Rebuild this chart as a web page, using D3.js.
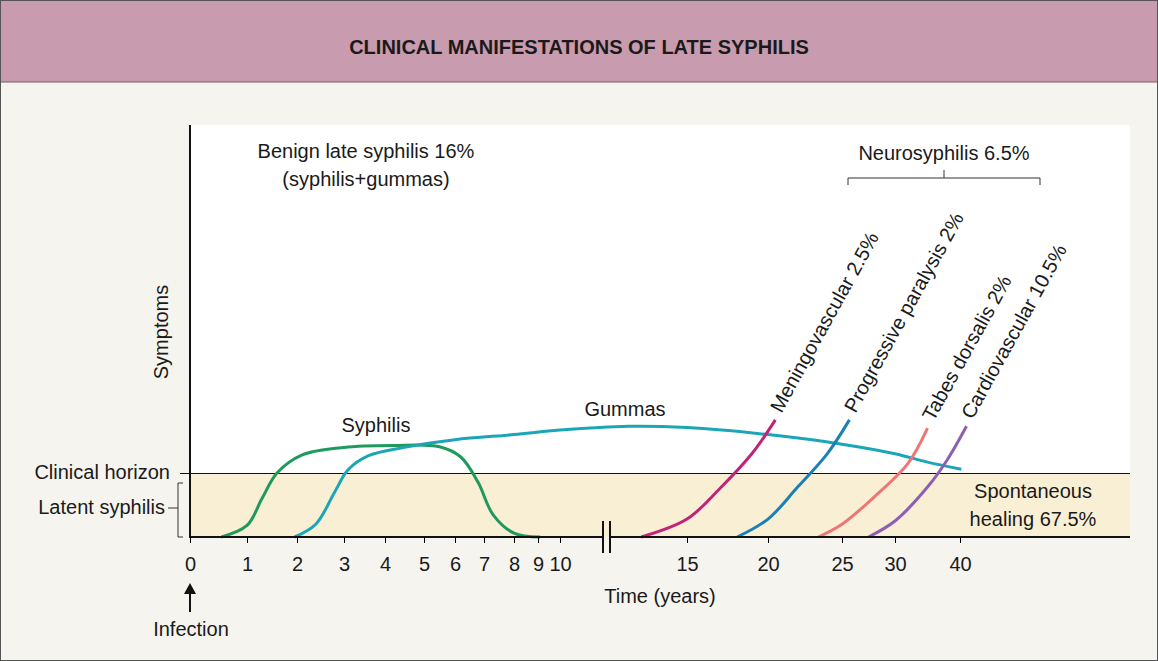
<!DOCTYPE html>
<html><head><meta charset="utf-8">
<script src="https://cdn.jsdelivr.net/npm/d3@7"></script>
<style>body{margin:0;background:#fff}text{font-family:"Liberation Sans",Arial,sans-serif;fill:#1a1a1a}</style>
</head><body>
<svg width="1158" height="661"></svg>
<script>
// axis ticks (years) and where they sit on the piecewise time axis
const tickYears = [0, 1, 2, 3, 4, 5, 6, 7, 8, 9, 10, 15, 20, 25, 30, 40];
const tickPx = [190, 247, 297, 344, 385, 424, 455, 484, 514, 538, 560, 687, 768, 842, 895, 960];

// curves: [year, symptom level] ; level 1 = clinical horizon
const syphilis = [[0.55,0],[1,0.18],[1.3,0.6],[1.6,1],[2.1,1.28],[3,1.4],[4.2,1.43],[5.5,1.41],[6.2,1.25],[6.8,0.85],[7.3,0.35],[8,0.06],[9.1,0]];
const gummas = [[1.95,0],[2.4,0.2],[2.8,0.7],[3.1,1.05],[3.6,1.27],[4.5,1.4],[6,1.52],[8,1.6],[10,1.67],[12.7,1.73],[15,1.71],[20,1.6],[25,1.45],[30,1.3],[35,1.17],[40.2,1.06]];
const mening = [[13.2,0],[15,0.28],[17,0.75],[19,1.3],[20.5,1.83]];
const paralysis = [[18.1,0],[20,0.28],[22,0.78],[24,1.3],[25.7,1.83]];
const tabes = [[23.4,0],[25,0.2],[28,0.62],[32,1.15],[35,1.7]];
const cardio = [[27.5,0],[30,0.25],[35,0.78],[38,1.2],[41,1.73]];

const lateLabels = [
  {text: "Meningovascular 2.5%", at: [20.5,1.83], color: "#c0237a", data: mening},
  {text: "Progressive paralysis 2%", at: [25.7,1.83], color: "#1b80b4", data: paralysis},
  {text: "Tabes dorsalis 2%", at: [35,1.7], color: "#f07575", data: tabes},
  {text: "Cardiovascular 10.5%", at: [41,1.73], color: "#8d5fb0", data: cardio}
];

const FS = '20px';
const svg = d3.select('svg');
svg.append('rect').attr('width',1158).attr('height',661).attr('fill','#f6f4ef');
svg.append('rect').attr('width',1158).attr('height',82).attr('fill','#c99bae');
svg.append('line').attr('x1',0).attr('x2',1158).attr('y1',82).attr('y2',82).attr('stroke','#7a5a66');
svg.append('rect').attr('x',0.5).attr('y',0.5).attr('width',1157).attr('height',660).attr('fill','none').attr('stroke','#555');
svg.append('text').attr('x',579).attr('y',54).attr('text-anchor','middle').style('font-size','20px').style('font-weight','bold').text('CLINICAL MANIFESTATIONS OF LATE SYPHILIS');

const x = d3.scaleLinear().domain(tickYears).range(tickPx);
const y = d3.scaleLinear().domain([0,1]).range([537,473]);

// white plot area and latent band
svg.append('rect').attr('x',190).attr('y',125).attr('width',940).attr('height',412).attr('fill','#fff');
svg.append('rect').attr('x',190).attr('y',y(1)).attr('width',940).attr('height',y(0)-y(1)).attr('fill','#f9efd5');
svg.append('line').attr('x1',180).attr('x2',1130).attr('y1',y(1)+0.5).attr('y2',y(1)+0.5).attr('stroke','#111');

const line = d3.line().x(d=>x(d[0])).y(d=>y(d[1])).curve(d3.curveCatmullRom.alpha(0.5));
const draw = (data,color) => svg.append('path').attr('d',line(data)).attr('fill','none').attr('stroke',color).attr('stroke-width',3);
draw(syphilis,'#1e9a5c');
draw(gummas,'#1ba6b8');
lateLabels.forEach(l => {
  draw(l.data,l.color);
  svg.append('text').attr('transform',`translate(${x(l.at[0])+6},${y(l.at[1])-6}) rotate(-61)`).style('font-size',FS).text(l.text);
});

// axes
svg.append('line').attr('x1',190).attr('x2',190).attr('y1',125).attr('y2',538).attr('stroke','#111').attr('stroke-width',2);
svg.append('line').attr('x1',190).attr('x2',603).attr('y1',537).attr('y2',537).attr('stroke','#111').attr('stroke-width',2);
svg.append('line').attr('x1',610).attr('x2',1130).attr('y1',537).attr('y2',537).attr('stroke','#111').attr('stroke-width',2);
[603,610].forEach(px => svg.append('line').attr('x1',px).attr('x2',px).attr('y1',521).attr('y2',553).attr('stroke','#111').attr('stroke-width',2));
const ax = svg.append('g').attr('transform','translate(0,537)')
  .call(d3.axisBottom(x).tickValues(tickYears).tickSize(6).tickPadding(14).tickFormat(d3.format('d')));
ax.select('.domain').remove();
ax.selectAll('text').style('font-size',FS).style('font-family','"Liberation Sans",Arial,sans-serif');

svg.append('text').attr('x',660).attr('y',603).attr('text-anchor','middle').style('font-size',FS).text('Time (years)');
svg.append('line').attr('x1',190).attr('x2',190).attr('y1',612).attr('y2',592).attr('stroke','#111').attr('stroke-width',2);
svg.append('path').attr('d','M184,594 L190,583 L196,594 Z').attr('fill','#111');
svg.append('text').attr('x',191).attr('y',636).attr('text-anchor','middle').style('font-size',FS).text('Infection');

// left labels
svg.append('text').attr('x',170).attr('y',479).attr('text-anchor','end').style('font-size',FS).text('Clinical horizon');
svg.append('text').attr('x',165).attr('y',514).attr('text-anchor','end').style('font-size',FS).text('Latent syphilis');
svg.append('path').attr('d','M183,483 L178,483 L178,537 L183,537 M178,508 L168,508').attr('fill','none').attr('stroke','#333');
svg.append('text').attr('transform','translate(168,332) rotate(-90)').attr('text-anchor','middle').style('font-size',FS).text('Symptoms');

// in-plot labels
svg.append('text').attr('x',376).attr('y',432).attr('text-anchor','middle').style('font-size',FS).text('Syphilis');
svg.append('text').attr('x',625).attr('y',416).attr('text-anchor','middle').style('font-size',FS).text('Gummas');
svg.append('text').attr('x',366).attr('y',158).attr('text-anchor','middle').style('font-size',FS).text('Benign late syphilis 16%');
svg.append('text').attr('x',366).attr('y',186).attr('text-anchor','middle').style('font-size',FS).text('(syphilis+gummas)');
svg.append('text').attr('x',944).attr('y',160).attr('text-anchor','middle').style('font-size',FS).text('Neurosyphilis 6.5%');
svg.append('path').attr('d','M848,185 L848,178 L1040,178 L1040,185 M944,178 L944,170').attr('fill','none').attr('stroke','#333');
svg.append('text').attr('x',1033).attr('y',498).attr('text-anchor','middle').style('font-size',FS).text('Spontaneous');
svg.append('text').attr('x',1033).attr('y',526).attr('text-anchor','middle').style('font-size',FS).text('healing 67.5%');
</script>
</body></html>
